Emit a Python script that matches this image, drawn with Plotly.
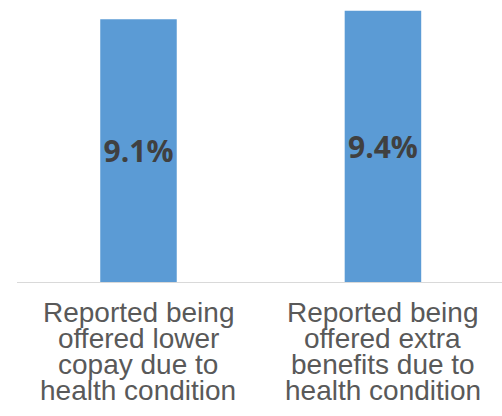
import plotly.graph_objects as go

categories = ["lower_copay", "extra_benefits"]
category_lines = [
    ["Reported being", "offered lower", "copay due to", "health condition"],
    ["Reported being", "offered extra", "benefits due to", "health condition"],
]
values = [9.1, 9.4]
value_labels = ["9.1%", "9.4%"]

BAR_COLOR = "#5B9BD5"
W, H = 502, 416
plot_bottom = 282
y_max = 9.771

fig = go.Figure(
    go.Bar(
        x=categories,
        y=values,
        text=value_labels,
        textposition="inside",
        insidetextanchor="middle",
        textfont=dict(family="Open Sans", size=30, color="#404040", weight="bold"),
        marker=dict(color=BAR_COLOR, line=dict(width=0)),
        width=0.313,
        cliponaxis=False,
    )
)

annotations = []
line_step = 26
for ci, lines in enumerate(category_lines):
    for li, txt in enumerate(lines):
        annotations.append(
            dict(
                x=categories[ci],
                xref="x",
                y=0,
                yref="paper",
                yanchor="top",
                xanchor="center",
                yshift=-13 - li * line_step,
                text=txt,
                showarrow=False,
                font=dict(family="Liberation Sans", size=28, color="#595959"),
            )
        )

fig.update_layout(
    width=W,
    height=H,
    margin=dict(l=17, r=0, t=0, b=H - plot_bottom, pad=0),
    paper_bgcolor="white",
    plot_bgcolor="white",
    showlegend=False,
    annotations=annotations,
)
fig.update_xaxes(
    type="category",
    range=[-0.497, 1.487],
    showticklabels=False,
    showgrid=False,
    zeroline=False,
    showline=True,
    linecolor="#d9d9d9",
    linewidth=1,
    ticks="",
)
fig.update_yaxes(
    range=[0, y_max],
    visible=False,
    showgrid=False,
    zeroline=False,
)

fig.write_html("out.html")
